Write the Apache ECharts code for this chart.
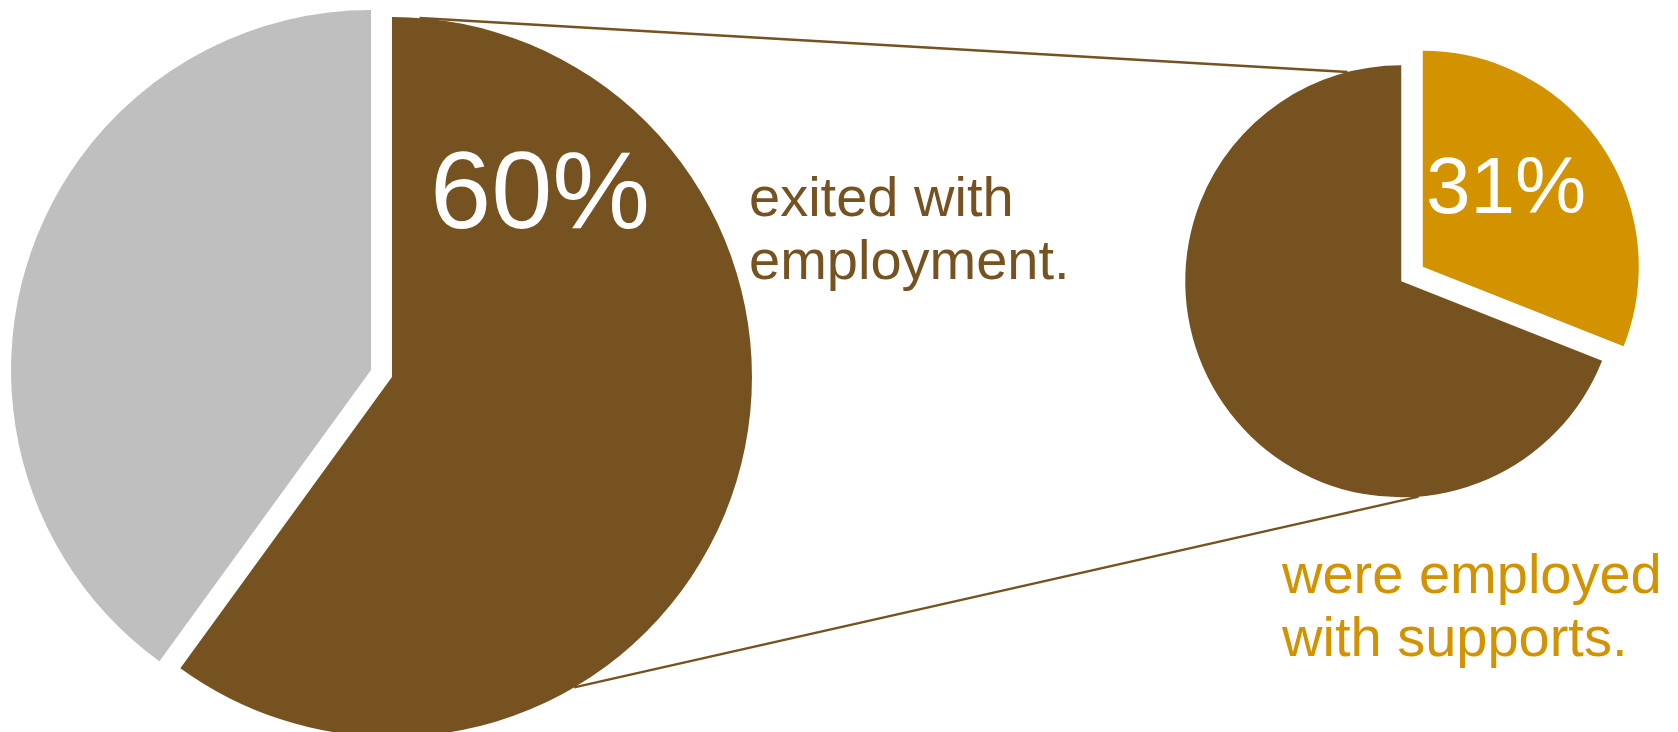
<!DOCTYPE html>
<html>
<head>
<meta charset="utf-8">
<script src="https://cdn.jsdelivr.net/npm/echarts@6/dist/echarts.min.js"></script>
<style>
  html, body { margin: 0; padding: 0; background: #ffffff; }
  #chart { width: 1678px; height: 732px; }
</style>
</head>
<body>
<div id="chart"></div>
<script>
// ---- data ----
const bigCategories = ['Exited with employment', 'Did not exit with employment'];
const bigValues = [60, 40];
const smallCategories = ['Employed with supports', 'Employed without supports'];
const smallValues = [31, 69];
const bigCaption = ['exited with', 'employment.'];
const smallCaption = ['were employed', 'with supports.'];

// ---- style / layout ----
const BROWN = '#75521F', GRAY = '#BFBFBF', GOLD = '#D39200';
const FONT = '"Liberation Sans", Arial, Helvetica, sans-serif';
const big = { cx: 381.5, cy: 373.5, r: 360, off: 11 };
const small = { cx: 1412, cy: 274, r: 216, off: 13 };

function sliceCenter(p, values, idx) {
  const total = values.reduce((a, b) => a + b, 0);
  let before = 0;
  for (let i = 0; i < idx; i++) before += values[i];
  const mid = (before + values[idx] / 2) / total * 2 * Math.PI;
  return [p.cx + p.off * Math.sin(mid), p.cy - p.off * Math.cos(mid)];
}
function onCircle(c, r, deg) {
  const a = deg * Math.PI / 180;
  return [c[0] + r * Math.sin(a), c[1] - r * Math.cos(a)];
}
const bigBrownC = sliceCenter(big, bigValues, 0);
const smallBrownC = sliceCenter(small, smallValues, 1);
const upA = onCircle(bigBrownC, big.r, 4.4), upB = onCircle(smallBrownC, small.r, 345.6);
const loA = onCircle(bigBrownC, big.r, 149.6), loB = onCircle(smallBrownC, small.r, 175.4);

const chart = echarts.init(document.getElementById('chart'), null, { renderer: 'canvas' });

function pieData(cats, vals, colors) {
  return cats.map((n, i) => ({
    name: n, value: vals[i], selected: true,
    itemStyle: { color: colors[i] },
    select: { itemStyle: { color: colors[i] } }
  }));
}
function pieSeries(p, cats, vals, colors) {
  return {
    type: 'pie',
    center: [p.cx, p.cy],
    radius: [0, p.r],
    startAngle: 90,
    clockwise: true,
    selectedMode: 'multiple',
    selectedOffset: p.off,
    silent: true,
    label: { show: false },
    labelLine: { show: false },
    emphasis: { disabled: true },
    data: pieData(cats, vals, colors)
  };
}

const option = {
  animation: false,
  backgroundColor: '#ffffff',
  series: [
    pieSeries(big, bigCategories, bigValues, [BROWN, GRAY]),
    pieSeries(small, smallCategories, smallValues, [GOLD, BROWN])
  ],
  graphic: [
    { type: 'line', z: -1, shape: { x1: upA[0], y1: upA[1], x2: upB[0], y2: upB[1] },
      style: { stroke: BROWN, lineWidth: 2.5 } },
    { type: 'line', z: -1, shape: { x1: loA[0], y1: loA[1], x2: loB[0], y2: loB[1] },
      style: { stroke: BROWN, lineWidth: 2.5 } },
    { type: 'text', z: 10, left: 430, top: 143,
      style: { text: bigValues[0] + '%', fill: '#ffffff', font: '110px ' + FONT, lineHeight: 110 } },
    { type: 'text', z: 10, left: 1426, top: 151,
      style: { text: smallValues[0] + '%', fill: '#ffffff', font: '80px ' + FONT, lineHeight: 80 } },
    { type: 'text', z: 10, left: 749, top: 169,
      style: { text: bigCaption.join('\n'), fill: BROWN, font: '56px ' + FONT, lineHeight: 63 } },
    { type: 'text', z: 10, left: 1282, top: 546,
      style: { text: smallCaption.join('\n'), fill: GOLD, font: '56px ' + FONT, lineHeight: 63 } }
  ]
};
chart.setOption(option);
</script>
</body>
</html>
